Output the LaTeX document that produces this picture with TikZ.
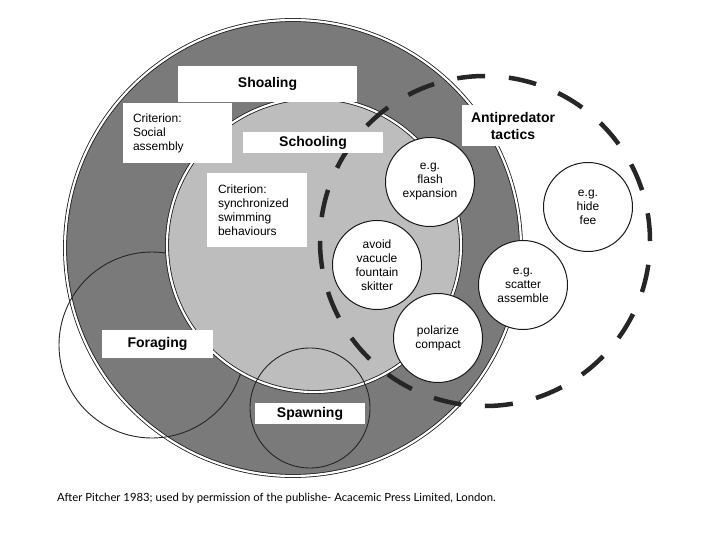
\documentclass[tikz,border=0pt]{standalone}
\usepackage{fontspec}
\setmainfont{Liberation Sans}
\newfontfamily\capfont{Lato}
\begin{document}
\begin{tikzpicture}[x=1pt,y=-1pt,
  dbl/.style={draw=black!90, line width=0.8pt, double=white, double distance=2.2pt},
  thinc/.style={draw=black!85, line width=0.9pt},
  wbox/.style={fill=white, inner sep=0pt},
  head/.style={font=\fontsize{14}{17}\selectfont\bfseries},
  crit/.style={font=\fontsize{12}{14}\selectfont, align=left},
  tact/.style={circle, draw=black!90, line width=1pt, fill=white, minimum size=89pt, inner sep=0pt, align=center, font=\fontsize{12}{14}\selectfont},
  dashc/.style={draw=black!85, line width=4.5pt, dash pattern=on 28pt off 23.85pt, dash phase=28pt}
]
\useasboundingbox[fill=white] (0,0) rectangle (720,540);
% Shoaling (outer) circle
\path[fill=black!52, dbl] (293,248) circle[radius=228];
% Foraging circle
\draw[thinc] (152,345) circle[radius=93];
% Schooling (inner) circle
\path[fill=black!26, dbl] (314,245) circle[radius=147];
% Spawning circle
\draw[thinc] (310,408) circle[radius=60];
% Antipredator dashed circle
\draw[dashc] (485,241) circle[radius=165];
% labels
\node[wbox, head, minimum width=179pt, minimum height=36pt] (shoal) at (267.5,84) {Shoaling};
\node[wbox, crit, text width=89pt, inner xsep=10pt, minimum height=60pt] (critsoc) at (177.5,133) {Criterion:\\Social\\assembly};
\node[wbox, head, minimum width=140pt, minimum height=21pt] (school) at (313,142.5) {Schooling};
\node[wbox, crit, text width=78pt, inner xsep=11pt, minimum height=74pt] (critsync) at (257,210) {Criterion:\\synchronized\\swimming\\behaviours};
\node[wbox, head, align=center, minimum width=102pt, minimum height=41pt] (anti) at (513,125.5) {Antipredator\\tactics};
\node[wbox, head, minimum width=111pt, minimum height=28pt] (forage) at (157.5,344) {Foraging};
\node[wbox, head, minimum width=110pt, minimum height=21pt] (spawn) at (310,413.5) {Spawning};
% tactics circles
\node[tact] (flash) at (430,182) {e.g.\\flash\\expansion};
\node[tact] (avoid) at (377,265) {avoid\\vacucle\\fountain\\skitter};
\node[tact] (polar) at (438,338) {polarize\\compact};
\node[tact] (scatter) at (523,285) {e.g.\\scatter\\assemble};
\node[tact] (hide) at (588,207) {e.g.\\hide\\fee};
% caption
\node[anchor=west, inner sep=0pt, font=\capfont\fontsize{11.3}{13}\selectfont] (cap) at (57,498) {After Pitcher 1983; used by permission of the publishe- Acacemic Press Limited, London.};
\end{tikzpicture}
\end{document}
